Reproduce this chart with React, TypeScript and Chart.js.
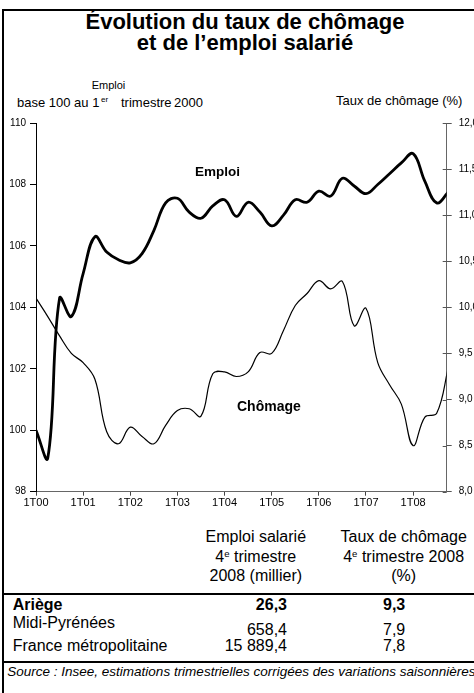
import React, { useEffect, useRef } from 'react';
import { Chart, registerables } from 'chart.js';

Chart.register(...registerables);

// x-axis tick labels (one every 4 quarters)
const yearTicks = ['1T00', '1T01', '1T02', '1T03', '1T04', '1T05', '1T06', '1T07', '1T08'];

// Emploi salarié, base 100 au 1er trimestre 2000 (quarterly, 1T00 .. 4T08)
const emploi = [
  100.0, 99.1, 104.3, 103.7, 105.1, 106.3, 105.8, 105.55,
  105.45, 105.75, 106.5, 107.4, 107.55, 107.1, 106.9, 107.3,
  107.5, 106.96, 107.42, 107.1, 106.65, 107.0, 107.5, 107.42,
  107.78, 107.62, 108.2, 107.95, 107.7, 108.0, 108.35, 108.7,
  109.0, 108.1, 107.4, 107.75,
];

// Taux de chômage (%) (quarterly, 1T00 .. 4T08)
const chomage = [
  10.1, 9.9, 9.69, 9.5, 9.4, 9.22, 8.65, 8.52,
  8.7, 8.6, 8.52, 8.72, 8.88, 8.9, 8.82, 9.28,
  9.3, 9.25, 9.3, 9.51, 9.5, 9.75, 10.02, 10.15,
  10.29, 10.2, 10.28, 9.8, 9.99, 9.4, 9.16, 8.95,
  8.5, 8.81, 8.85, 9.35,
];

// Table
const rowNames = ['Ariège', 'Midi-Pyrénées', 'France métropolitaine'];
const rowEmploi = ['26,3', '658,4', '15 889,4'];
const rowChomage = ['9,3', '7,9', '7,8'];

const FONT = '"Liberation Sans", Arial, Helvetica, sans-serif';
const NARROW = '"Liberation Sans Narrow", "Arial Narrow", "Liberation Sans", Arial, sans-serif';

const innerTicks = {
  id: 'innerTicks',
  afterDraw(chart: any) {
    const s = chart.scales.y2;
    if (!s) return;
    const ctx = chart.ctx;
    ctx.save();
    ctx.strokeStyle = '#555';
    ctx.lineWidth = 1;
    s.ticks.forEach((t: any) => {
      const y = Math.round(s.getPixelForValue(t.value)) + 0.5;
      ctx.beginPath();
      ctx.moveTo(s.left - 4, y);
      ctx.lineTo(s.left, y);
      ctx.stroke();
    });
    ctx.restore();
  },
};

function Txt(props: { left?: number; top: number; size: number; bold?: boolean; italic?: boolean; family?: string; children: any; align?: 'left' | 'center' | 'right'; center?: number; right?: number; }) {
  const { left, top, size, bold, italic, family, children, align, center, right } = props;
  const style: any = {
    position: 'absolute',
    top,
    fontSize: size,
    lineHeight: `${size}px`,
    fontWeight: bold ? 'bold' : 'normal',
    fontStyle: italic ? 'italic' : 'normal',
    fontFamily: family || FONT,
    whiteSpace: 'pre',
  };
  if (center !== undefined) {
    style.left = center - 200;
    style.width = 400;
    style.textAlign = 'center';
  } else if (right !== undefined) {
    style.left = right - 200;
    style.width = 200;
    style.textAlign = 'right';
  } else {
    style.left = left;
    style.textAlign = align || 'left';
  }
  return <div style={style}>{children}</div>;
}

export default function App() {
  const ref = useRef<HTMLCanvasElement>(null);

  useEffect(() => {
    const canvas = ref.current;
    if (!canvas) return;
    const chart = new Chart(canvas, {
      type: 'line',
      data: {
        datasets: [
          {
            label: 'Emploi',
            data: emploi.map((v, i) => ({ x: i, y: v })),
            yAxisID: 'y',
            borderColor: '#000',
            borderWidth: 2.8,
            pointRadius: 0,
            tension: 0.4,
            fill: false,
          },
          {
            label: 'Chômage',
            data: chomage.map((v, i) => ({ x: i, y: v })),
            yAxisID: 'y2',
            borderColor: '#000',
            borderWidth: 1.2,
            pointRadius: 0,
            tension: 0.4,
            fill: false,
          },
        ],
      },
      options: {
        responsive: false,
        animation: false,
        devicePixelRatio: 1,
        layout: { padding: { top: 13, left: 0, right: 0, bottom: 0 } },
        plugins: { legend: { display: false }, tooltip: { enabled: false } },
        scales: {
          x: {
            type: 'linear',
            min: 0,
            max: 34.85,
            afterFit: (s: any) => { s.height = 28.3; },
            grid: { drawOnChartArea: false, drawTicks: true, tickLength: 4, color: '#444' },
            border: { color: '#666', width: 1 },
            ticks: {
              stepSize: 4,
              includeBounds: false,
              autoSkip: false,
              maxRotation: 0,
              padding: 1,
              color: '#000',
              font: { family: NARROW, size: 11 },
              callback: (v: any) => yearTicks[Math.round(Number(v) / 4)] ?? '',
            },
          },
          y: {
            type: 'linear',
            position: 'left',
            min: 98,
            max: 110,
            afterFit: (s: any) => { s.width = 36; },
            grid: { drawOnChartArea: false, drawTicks: true, tickLength: 6, color: '#000' },
            border: { color: '#000', width: 1 },
            ticks: {
              stepSize: 2,
              padding: 4,
              color: '#000',
              font: { family: NARROW, size: 10 },
            },
          },
          y2: {
            type: 'linear',
            position: 'right',
            min: 8,
            max: 12,
            afterFit: (s: any) => { s.width = 27.3; },
            grid: { drawOnChartArea: false, drawTicks: true, tickLength: 5, color: '#555' },
            border: { color: '#666', width: 1 },
            ticks: {
              stepSize: 0.5,
              padding: 7,
              color: '#000',
              font: { family: NARROW, size: 10 },
              callback: (v: any) => Number(v).toFixed(1).replace('.', ','),
            },
          },
        },
      },
      plugins: [innerTicks],
    } as any);
    return () => chart.destroy();
  }, []);

  const sup = (t: string) => (
    <sup style={{ fontSize: '0.6em', verticalAlign: '0.55em', lineHeight: 0 }}>{t}</sup>
  );

  return (
    <div style={{ position: 'absolute', left: 0, top: 0, width: 474, height: 693, overflow: 'hidden', background: '#fff', color: '#000', fontFamily: FONT }}>
      {/* frame */}
      <div style={{ position: 'absolute', left: 2, top: 9, width: 2, height: 684, background: '#000' }} />
      <div style={{ position: 'absolute', left: 2, top: 9, width: 472, height: 2, background: '#000' }} />
      <div style={{ position: 'absolute', left: 2, top: 593, width: 472, height: 2, background: '#000' }} />
      <div style={{ position: 'absolute', left: 2, top: 661, width: 472, height: 2, background: '#000' }} />

      {/* title */}
      <Txt center={245} top={10.9} size={22} bold>Évolution du taux de chômage</Txt>
      <Txt center={245} top={32.4} size={22} bold>et de l’emploi salarié</Txt>

      {/* axis titles */}
      <Txt center={108.5} top={79.7} size={11} family={NARROW}>Emploi</Txt>
      <Txt left={17} top={95.5} size={13}>base 100 au 1</Txt>
      <Txt left={101} top={96} size={8}>er</Txt>
      <Txt left={121} top={95.5} size={13}>trimestre</Txt>
      <Txt left={174} top={95.5} size={13}>2000</Txt>
      <Txt left={336} top={93.5} size={13}>Taux de chômage (%)</Txt>

      {/* chart */}
      <canvas ref={ref} width={474} height={410} style={{ position: 'absolute', left: 0, top: 110, width: 474, height: 410 }} />

      {/* in-chart labels */}
      <Txt left={195} top={164.6} size={13.5} bold>Emploi</Txt>
      <Txt left={237} top={398.9} size={14} bold>Chômage</Txt>

      {/* table header */}
      <div style={{ position: 'absolute', left: 155.8, width: 200, top: 527.4, fontSize: 16, lineHeight: '19.5px', textAlign: 'center' }}>
        Emploi salarié<br />4{sup('e')} trimestre<br />2008 (millier)
      </div>
      <div style={{ position: 'absolute', left: 303.7, width: 200, top: 527.4, fontSize: 16, lineHeight: '19.5px', textAlign: 'center' }}>
        Taux de chômage<br />4{sup('e')} trimestre 2008<br />(%)
      </div>

      {/* table rows */}
      <Txt left={12.7} top={596.5} size={16} bold>{rowNames[0]}</Txt>
      <Txt right={287} top={596.5} size={16} bold>{rowEmploi[0]}</Txt>
      <Txt left={383} top={596.5} size={16} bold>{rowChomage[0]}</Txt>

      <Txt left={12.7} top={614.5} size={16}>{rowNames[1]}</Txt>
      <Txt right={287} top={621.5} size={16}>{rowEmploi[1]}</Txt>
      <Txt left={383} top={621.5} size={16}>{rowChomage[1]}</Txt>

      <Txt left={12.7} top={637.5} size={16}>{rowNames[2]}</Txt>
      <Txt right={287} top={637.5} size={16}>{rowEmploi[2]}</Txt>
      <Txt left={383} top={637.5} size={16}>{rowChomage[2]}</Txt>

      {/* source */}
      <Txt left={7.3} top={664.6} size={13.5} italic>Source : Insee, estimations trimestrielles corrigées des variations saisonnières</Txt>
    </div>
  );
}
